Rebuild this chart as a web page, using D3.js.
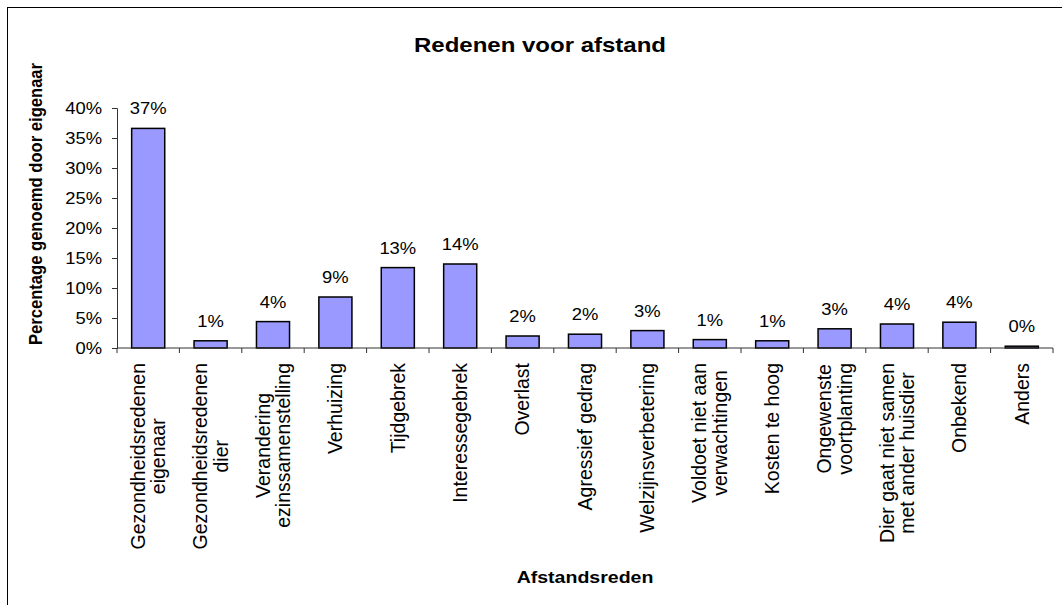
<!DOCTYPE html>
<html>
<head>
<meta charset="utf-8">
<script src="https://cdn.jsdelivr.net/npm/d3@7"></script>
<style>
  body { margin: 0; background: #fff; }
  text { font-family: "Liberation Sans", Arial, sans-serif; fill: #000; }
</style>
</head>
<body>
<div id="root"></div>
<script>
// data
const categories = [
  ['Gezondheidsredenen', 'eigenaar'],
  ['Gezondheidsredenen', 'dier'],
  ['Verandering', 'ezinssamenstelling'],
  ['Verhuizing'],
  ['Tijdgebrek'],
  ['Interessegebrek'],
  ['Overlast'],
  ['Agressief gedrag'],
  ['Welzijnsverbetering'],
  ['Voldoet niet aan', 'verwachtingen'],
  ['Kosten te hoog'],
  ['Ongewenste', 'voortplanting'],
  ['Dier gaat niet samen', 'met ander huisdier'],
  ['Onbekend'],
  ['Anders']
];
const values = [36.6, 1.2, 4.4, 8.5, 13.4, 14.0, 2.0, 2.3, 2.9, 1.4, 1.2, 3.2, 4.0, 4.3, 0.3];
const yTicks = [0, 5, 10, 15, 20, 25, 30, 35, 40];

const W = 1062, H = 605;
const SX = 1.15; // horizontal text looks a bit wide in the picture
const m = { left: 117, right: 1053, top: 108, bottom: 348 };

const svg = d3.select('#root').append('svg')
  .attr('width', W)
  .attr('height', H);

svg.append('rect')
  .attr('width', W).attr('height', H)
  .attr('fill', '#fff');

// outer chart border (right and bottom run off the picture)
svg.append('rect')
  .attr('x', 7.5).attr('y', 7.5)
  .attr('width', 1100).attr('height', 700)
  .attr('fill', 'none')
  .attr('stroke', '#000');

const x = d3.scaleBand()
  .domain(d3.range(categories.length))
  .range([m.left, m.right])
  .paddingInner(0.47)
  .paddingOuter(0.235);

const xOuter = d3.scaleBand()
  .domain(d3.range(categories.length))
  .range([m.left, m.right]);

const y = d3.scaleLinear()
  .domain([0, 40])
  .range([m.bottom, m.top]);

function hText(sel, px, py, size, rot, sx) {
  let t = 'translate(' + px + ',' + py + ') scale(' + (sx || SX) + ',1)';
  if (rot) t += ' rotate(-90)';
  return sel.attr('transform', t).attr('font-size', size);
}

// title
hText(svg.append('text'), 540, 52, 20, false, 1.2)
  .attr('text-anchor', 'middle')
  .attr('font-weight', 'bold')
  .text('Redenen voor afstand');

// y axis
const yAxis = svg.append('g')
  .attr('transform', 'translate(' + m.left + ',0)')
  .call(d3.axisLeft(y).tickValues(yTicks).tickSize(5).tickFormat(d => d + '%'));
yAxis.attr('font-family', null).attr('font-size', null);
yAxis.select('.domain').attr('stroke', '#333');
yAxis.selectAll('.tick line').attr('stroke', '#333');
yAxis.selectAll('.tick text').each(function() {
  const t = d3.select(this);
  t.attr('x', null).attr('dy', null).attr('text-anchor', 'end');
  hText(t, -15, 5.5, 16, false);
});

// bars
svg.append('g')
  .selectAll('rect')
  .data(values)
  .join('rect')
  .attr('x', (d, i) => x(i))
  .attr('y', d => y(d))
  .attr('width', x.bandwidth())
  .attr('height', d => y(0) - y(d))
  .attr('fill', '#9999ff')
  .attr('stroke', '#000')
  .attr('stroke-width', 1.5);

// value labels
svg.append('g')
  .selectAll('text')
  .data(values)
  .join('text')
  .each(function(d, i) {
    hText(d3.select(this), x(i) + x.bandwidth() / 2, y(d) - 14, 16, false);
  })
  .attr('text-anchor', 'middle')
  .text(d => Math.round(d) + '%');

// x axis line and ticks at category boundaries
const xAxisG = svg.append('g');
xAxisG.append('line')
  .attr('x1', m.left).attr('x2', m.right)
  .attr('y1', m.bottom).attr('y2', m.bottom)
  .attr('stroke', '#333');
xAxisG.selectAll('.xt')
  .data(d3.range(categories.length + 1))
  .join('line')
  .attr('class', 'xt')
  .attr('x1', i => m.left + i * xOuter.step())
  .attr('x2', i => m.left + i * xOuter.step())
  .attr('y1', m.bottom).attr('y2', m.bottom + 5)
  .attr('stroke', '#333');

// category labels, rotated, each block's top at y=363
const catSize = 19.5;
const lineH = 20.5;
categories.forEach((lines, i) => {
  const cx = xOuter(i) + xOuter.bandwidth() / 2;
  const t = svg.append('text').attr('text-anchor', 'middle').attr('font-size', catSize);
  const spans = lines.map((s, k) =>
    t.append('tspan')
      .attr('x', 0)
      .attr('y', (k - (lines.length - 1) / 2) * lineH)
      .attr('dy', '0.35em')
      .text(s));
  const len = d3.max(spans, s => s.node().getComputedTextLength());
  hText(t, cx, 363 + len / 2, catSize, true, 1);
});

// axis titles
hText(svg.append('text'), 42, 204, 16.6, true)
  .attr('text-anchor', 'middle')
  .attr('font-weight', 'bold')
  .text('Percentage genoemd door eigenaar');

hText(svg.append('text'), 585, 583, 17, false)
  .attr('text-anchor', 'middle')
  .attr('font-weight', 'bold')
  .text('Afstandsreden');
</script>
</body>
</html>
